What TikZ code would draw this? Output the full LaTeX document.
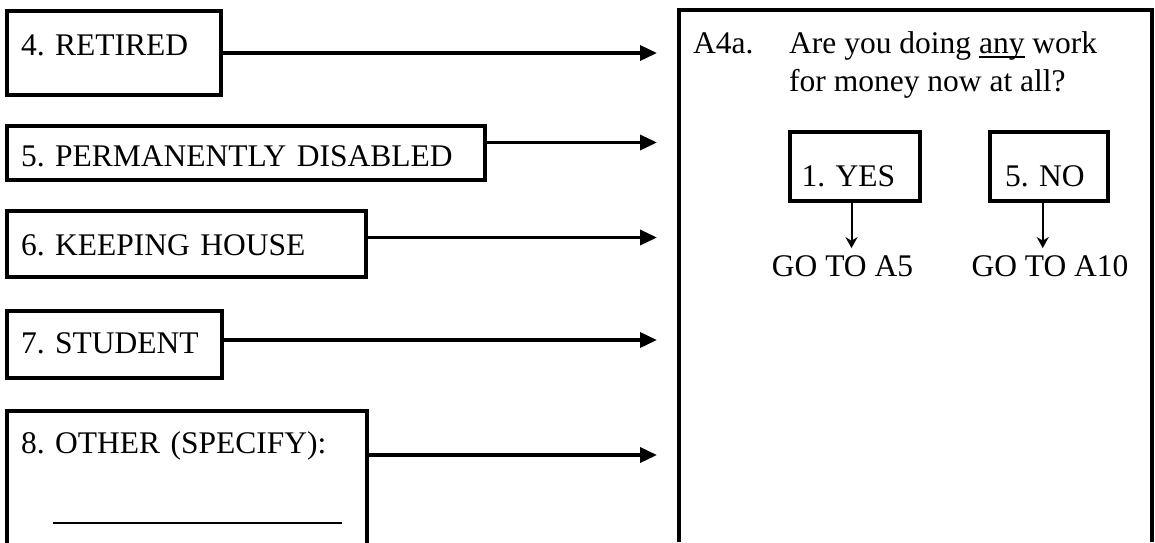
\documentclass[tikz,border=0pt]{standalone}
\usepackage{fontspec}
\setmainfont{Liberation Serif}
\usetikzlibrary{arrows.meta}
\frenchspacing

\newcommand{\formfont}{\fontsize{31.5}{37}\selectfont\frenchspacing}
\newsavebox{\ulbox}
\newcommand{\ulword}[1]{\sbox{\ulbox}{#1}\rlap{\rule[-5pt]{\wd\ulbox}{1.8pt}}\usebox{\ulbox}}

\tikzstyle{answer} = [rectangle, draw=black, line width=4pt, outer sep=0pt, anchor=north west, inner xsep=14pt, inner ysep=0pt, align=left, font=\formfont]
\tikzstyle{choice} = [rectangle, draw=black, line width=4pt, outer sep=0pt, anchor=north west, inner ysep=0pt, text height=55.2pt, text depth=13.8pt, align=left, font=\formfont]
\tikzstyle{plaintext} = [inner sep=0pt, anchor=base west, font=\formfont]
\tikzstyle{goto} = [inner xsep=0pt, inner ysep=7.5pt, anchor=base, font=\formfont]
\tikzstyle{arrow} = [line width=3.5pt, -{Triangle[length=17pt,width=15pt]}]
\tikzstyle{thinarrow} = [line width=2pt, -{Stealth[length=11pt,width=12pt]}]

\begin{document}
\begin{tikzpicture}[x=1pt, y=-1pt]
\useasboundingbox (0,0) rectangle (1155,542);

% Answer boxes
\node (retired) [answer, text width=185.5pt, text height=44.5pt, text depth=40pt] at (7,10.5) {4. RETIRED};
\node (disabled) [answer, text width=450pt, text height=40.5pt, text depth=14pt] at (7,125.5) {5. PERMANENTLY DISABLED};
\node (house) [answer, text width=330.5pt, text height=44.5pt, text depth=22pt] at (7,210.5) {6. KEEPING HOUSE};
\node (student) [answer, text width=187pt, text height=42.5pt, text depth=25pt] at (7,310.5) {7. STUDENT};
\node (other) [answer, text width=332pt, text height=42.5pt, text depth=107pt] at (7,410.5) {8. OTHER (SPECIFY):\\[34pt]\hspace*{32pt}\rule{289pt}{2pt}};

% Arrow ends
\coordinate (tipretired) at (657,53);
\coordinate (tipdisabled) at (657,142.5);
\coordinate (tiphouse) at (657,237.5);
\coordinate (tipstudent) at (657,340);
\coordinate (tipother) at (657,455);

% Question frame
\draw [line width=4pt] (679,542) |- (1152,9.5) -- (1152,542);
\node (qnum) [plaintext] at (693,53) {A4a.};
\node (qline1) [plaintext] at (789,53) {Are you doing \ulword{any} work};
\node (qline2) [plaintext] at (789,91) {for money now at all?};
\node (yes) [choice, inner xsep=12pt, text width=106pt] at (789.5,131.5) {1. YES};
\node (no) [choice, inner xsep=15.5pt, text width=87.5pt] at (989.5,131.5) {5. NO};
\node (goyes) [goto] at (842.5,276.7) {GO TO A5};
\node (gono) [goto] at (1050,276.7) {GO TO A10};

% Arrows
\draw [arrow] (retired.east |- tipretired) -- (tipretired);
\draw [arrow] (disabled.east |- tipdisabled) -- (tipdisabled);
\draw [arrow] (house.east |- tiphouse) -- (tiphouse);
\draw [arrow] (student.east |- tipstudent) -- (tipstudent);
\draw [arrow] (other.east |- tipother) -- (tipother);
\draw [thinarrow] ([xshift=-3pt]yes.south) -- ([xshift=-3pt]yes.south |- goyes.north);
\draw [thinarrow] ([xshift=-6pt]no.south) -- ([xshift=-6pt]no.south |- gono.north);

\end{tikzpicture}
\end{document}
